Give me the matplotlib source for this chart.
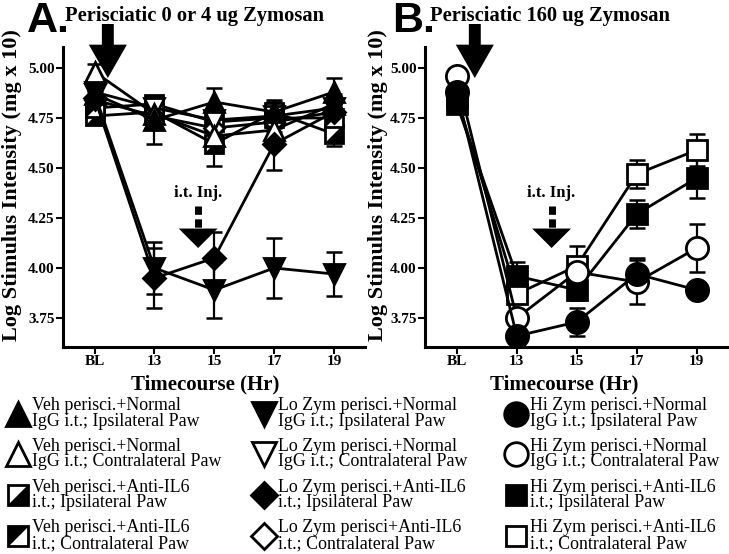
import numpy as np
import matplotlib
matplotlib.use("Agg")
import matplotlib.pyplot as plt
from matplotlib.path import Path
from matplotlib.lines import Line2D
from matplotlib.legend_handler import HandlerTuple

plt.rcParams['font.family'] = ['Liberation Serif', 'DejaVu Serif']

# ---- data -------------------------------------------------------------
timepoints = ['BL', '13', '15', '17', '19']

# panel A: vehicle / low zymosan
veh_igg_ipsi = [4.87, 4.74, 4.83, 4.78, 4.88]
veh_igg_ipsi_err = [0.05, 0.12, 0.07, 0.06, 0.07]
veh_igg_contra = [4.98, 4.77, 4.66, 4.69, 4.82]
veh_igg_contra_err = [0.04, 0.06, 0.06, 0.06, 0.05]
veh_il6_ipsi = [4.76, 4.78, 4.62, 4.78, 4.67]
veh_il6_ipsi_err = [0.04, 0.05, 0.11, 0.05, 0.06]
veh_il6_contra = [4.80, 4.82, 4.73, 4.75, 4.75]
veh_il6_contra_err = [0.04, 0.04, 0.05, 0.05, 0.05]
lo_igg_ipsi = [4.87, 4.00, 3.89, 4.00, 3.97]
lo_igg_ipsi_err = [0.04, 0.13, 0.14, 0.15, 0.11]
lo_igg_contra = [4.88, 4.80, 4.74, 4.76, 4.80]
lo_igg_contra_err = [0.04, 0.04, 0.05, 0.05, 0.05]
lo_il6_ipsi = [4.85, 3.95, 4.05, 4.62, 4.78]
lo_il6_ipsi_err = [0.04, 0.15, 0.13, 0.13, 0.05]
lo_il6_contra = [4.84, 4.76, 4.70, 4.73, 4.78]
lo_il6_contra_err = [0.04, 0.04, 0.05, 0.05, 0.05]

# panel B: high zymosan
hi_igg_ipsi = [4.88, 3.66, 3.73, 3.97, 3.89]
hi_igg_ipsi_err = [0.03, 0.03, 0.07, 0.08, 0.03]
hi_igg_contra = [4.96, 3.75, 3.98, 3.93, 4.10]
hi_igg_contra_err = [0.03, 0.03, 0.05, 0.11, 0.12]
hi_il6_ipsi = [4.82, 3.96, 3.89, 4.27, 4.45]
hi_il6_ipsi_err = [0.03, 0.07, 0.05, 0.07, 0.10]
hi_il6_contra = [4.85, 3.87, 4.01, 4.47, 4.59]
hi_il6_contra_err = [0.03, 0.03, 0.10, 0.07, 0.08]

# ---- markers ----------------------------------------------------------
lower_right = Path([(-0.5, -0.5), (0.5, -0.5), (0.5, 0.5), (-0.5, -0.5)],
                   [Path.MOVETO, Path.LINETO, Path.LINETO, Path.CLOSEPOLY])
upper_left = Path([(-0.5, -0.5), (0.5, 0.5), (-0.5, 0.5), (-0.5, -0.5)],
                  [Path.MOVETO, Path.LINETO, Path.LINETO, Path.CLOSEPOLY])

fig = plt.figure(figsize=(7.29, 5.54), dpi=100)
W, H = 729.0, 554.0
axA = fig.add_axes([63 / W, 1 - 347 / H, 302 / W, 300 / H])
axB = fig.add_axes([425 / W, 1 - 347 / H, 303 / W, 300 / H])

x = np.arange(len(timepoints))


def series(ax, y, err, marker, face, ms, path=None):
    ax.errorbar(x, y, yerr=err, fmt='none', ecolor='black', elinewidth=1.6,
                capsize=6, capthick=1.8, zorder=2)
    ax.plot(x, y, color='black', lw=2, marker=marker, ms=ms, mfc=face,
            mec='black', mew=2, zorder=3)
    if path is not None:
        ax.plot(x, y, ls='none', marker=path, ms=ms, mfc='black', mec='black',
                mew=0, zorder=3)


series(axA, veh_il6_ipsi, veh_il6_ipsi_err, 's', 'white', 13, lower_right)
series(axA, veh_il6_contra, veh_il6_contra_err, 's', 'white', 13, upper_left)
series(axA, lo_il6_contra, lo_il6_contra_err, 'D', 'white', 10)
series(axA, lo_igg_contra, lo_igg_contra_err, 'v', 'white', 14)
series(axA, veh_igg_contra, veh_igg_contra_err, '^', 'white', 15)
series(axA, veh_igg_ipsi, veh_igg_ipsi_err, '^', 'black', 14)
series(axA, lo_il6_ipsi, lo_il6_ipsi_err, 'D', 'black', 11)
series(axA, lo_igg_ipsi, lo_igg_ipsi_err, 'v', 'black', 15)

series(axB, hi_il6_contra, hi_il6_contra_err, 's', 'white', 14)
series(axB, hi_il6_ipsi, hi_il6_ipsi_err, 's', 'black', 14)
series(axB, hi_igg_contra, hi_igg_contra_err, 'o', 'white', 16)
series(axB, hi_igg_ipsi, hi_igg_ipsi_err, 'o', 'black', 16)

for ax in (axA, axB):
    ax.set_xlim(-0.53, 4.52)
    ax.set_ylim(3.605, 5.105)
    ax.set_xticks(x)
    ax.set_xticklabels(timepoints, fontweight='bold', fontsize=11)
    ax.set_yticks([3.75, 4.00, 4.25, 4.50, 4.75, 5.00])
    ax.set_yticklabels(['3.75', '4.00', '4.25', '4.50', '4.75', '5.00'],
                       fontweight='bold', fontsize=11)
    ax.tick_params(direction='out', length=5, width=1.5, pad=1)
    for s in ('top', 'right'):
        ax.spines[s].set_visible(False)
    for s in ('left', 'bottom'):
        ax.spines[s].set_linewidth(2.2)
    ax.set_ylabel('Log Stimulus Intensity (mg x 10)', fontweight='bold', fontsize=16)
    ax.set_xlabel('Timecourse (Hr)', fontweight='bold', fontsize=15)

axA.yaxis.set_label_coords(-0.136, 0.54)
axB.yaxis.set_label_coords(-0.122, 0.54)
axA.xaxis.set_label_coords(0.47, -0.093)
axB.xaxis.set_label_coords(0.46, -0.093)

# big black "perisciatic" arrows and dashed i.t. arrows
inj_arrow_x = {axA: 0.22, axB: 0.30}
it_x = {axA: 1.73, axB: 1.58}
for ax in (axA, axB):
    ax.annotate('', xy=(inj_arrow_x[ax], 4.95), xytext=(inj_arrow_x[ax], 5.22),
                annotation_clip=False,
                arrowprops=dict(arrowstyle='simple,head_length=1.2,head_width=1.37,tail_width=0.43',
                                mutation_scale=20, color='black', lw=0,
                                shrinkA=0, shrinkB=0))
    ax.text(it_x[ax], 4.375, 'i.t. Inj.', ha='center', va='center',
            fontweight='bold', fontsize=12)
    ax.plot([it_x[ax], it_x[ax]], [4.31, 4.17], color='black', lw=5,
            ls=(0, (1.2, 0.65)), solid_capstyle='butt')
    ax.annotate('', xy=(it_x[ax], 4.10), xytext=(it_x[ax], 4.20),
                arrowprops=dict(arrowstyle='-|>,head_length=0.7,head_width=0.7',
                                mutation_scale=20, color='black', lw=0,
                                shrinkA=0, shrinkB=0))

# panel labels and headings
fig.text(27 / W, 1 - 21 / H, 'A.', family=['Liberation Sans'], fontweight='bold',
         fontsize=31, va='center', ha='left')
fig.text(65 / W, 1 - 16 / H, 'Perisciatic 0 or 4 ug Zymosan', fontweight='bold',
         fontsize=14.8, va='center', ha='left')
fig.text(392 / W, 1 - 21 / H, 'B.', family=['Liberation Sans'], fontweight='bold',
         fontsize=31, va='center', ha='left')
fig.text(430 / W, 1 - 16 / H, 'Perisciatic 160 ug Zymosan', fontweight='bold',
         fontsize=14.8, va='center', ha='left')


# ---- legends ----------------------------------------------------------
def mk(marker, face, ms):
    return Line2D([], [], ls='none', marker=marker, ms=ms, mfc=face, mec='black', mew=2)


def half(path):
    return (mk('s', 'white', 15),
            Line2D([], [], ls='none', marker=path, ms=15, mfc='black', mew=0))


col1 = [mk('^', 'black', 17), mk('^', 'white', 17), half(lower_right), half(upper_left)]
lab1 = ['Veh perisci.+Normal\nIgG i.t.; Ipsilateral Paw',
        'Veh perisci.+Normal\nIgG i.t.; Contralateral Paw',
        'Veh perisci.+Anti-IL6\ni.t.; Ipsilateral Paw',
        'Veh perisci.+Anti-IL6\ni.t.; Contralateral Paw']
col2 = [mk('v', 'black', 17), mk('v', 'white', 17), mk('D', 'black', 13), mk('D', 'white', 13)]
lab2 = ['Lo Zym perisci.+Normal\nIgG i.t.; Ipsilateral Paw',
        'Lo Zym perisci.+Normal\nIgG i.t.; Contralateral Paw',
        'Lo Zym perisci.+Anti-IL6\ni.t.; Ipsilateral Paw',
        'Lo Zym perisci+Anti-IL6\ni.t.; Contralateral Paw']
col3 = [mk('o', 'black', 17), mk('o', 'white', 17), mk('s', 'black', 15), mk('s', 'white', 15)]
lab3 = ['Hi Zym perisci.+Normal\nIgG i.t.; Ipsilateral Paw',
        'Hi Zym perisci.+Normal\nIgG i.t.; Contralateral Paw',
        'Hi Zym perisci.+Anti-IL6\ni.t.; Ipsilateral Paw',
        'Hi Zym perisci.+Anti-IL6\ni.t.; Contralateral Paw']

for handles, labels, x0 in ((col1, lab1, 7), (col2, lab2, 253), (col3, lab3, 505)):
    leg = fig.legend(handles, labels, loc='upper left',
                     bbox_to_anchor=(x0 / W, 1 - 397 / H), frameon=False,
                     fontsize=12.9, handlelength=1.25, handletextpad=0.15,
                     labelspacing=0.45, borderpad=0, borderaxespad=0,
                     handler_map={tuple: HandlerTuple(ndivide=1)})
    for t in leg.get_texts():
        t.set_linespacing(0.9)

fig.savefig('out.png', dpi=100)
